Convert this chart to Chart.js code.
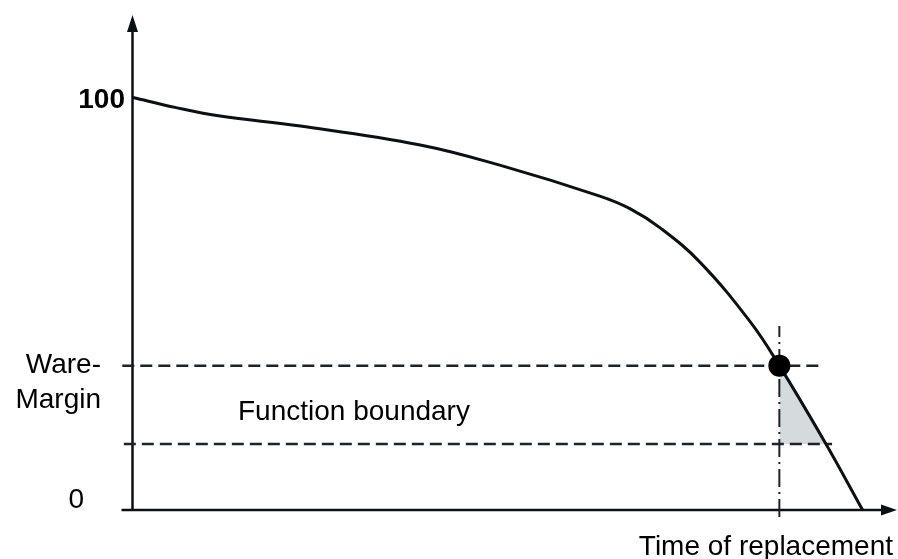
<!DOCTYPE html>
<html>
<head>
<meta charset="utf-8">
<script src="https://cdn.jsdelivr.net/npm/chart.js@4.4.1/dist/chart.umd.min.js"></script>
<style>
  html, body { margin: 0; padding: 0; background: #fff; }
  #wrap { width: 898px; height: 559px; }
</style>
</head>
<body>
<div id="wrap"><canvas id="wear-chart" width="898" height="559"></canvas></div>
<script>
// wear reserve (%) over operating time (arbitrary units 0..100)
const timeValues = [0, 5.5, 11.4, 21.9, 37.6, 48.0, 61.1, 65.1, 69.0, 74.2, 80.8, 84.6, 90.7, 95.5];
const wearReserve = [100, 97.6, 95.5, 93.1, 88.5, 83.6, 76.1, 73.0, 68.4, 60.1, 45.6, 35, 16, 0];

const wareMargin = 35;
const functionBoundary = 16;
const replacementTime = 84.6;
const boundaryTime = 90.7;
const wareMarginRange = [-1.4, 89.9];
const boundaryRange = [-1.2, 91.5];
const replacementRange = [-1.7, 44.6];

const topLabel = '100';
const zeroLabel = '0';
const marginLabel = ['Ware-', 'Margin'];
const boundaryLabel = 'Function boundary';
const xAxisLabel = 'Time of replacement';

const ink = '#0b1015';
const font = '"Liberation Sans", Arial, sans-serif';

const axesAndLabels = {
  id: 'axesAndLabels',
  beforeDatasetsDraw(chart) {
    const { ctx, scales: { x, y } } = chart;
    const x0 = x.getPixelForValue(0) - 0.5;
    const y0 = y.getPixelForValue(0);
    const yTop = y.getPixelForValue(y.max);
    const xEnd = x.getPixelForValue(x.max);
    ctx.save();
    ctx.strokeStyle = ink;
    ctx.fillStyle = ink;
    ctx.lineWidth = 2.5;
    ctx.beginPath();
    ctx.moveTo(x0, y0 + 1);
    ctx.lineTo(x0, yTop + 14);
    ctx.moveTo(x0 - 11, y0);
    ctx.lineTo(xEnd - 12, y0);
    ctx.stroke();
    ctx.beginPath();
    ctx.moveTo(x0, yTop);
    ctx.lineTo(x0 - 5.5, yTop + 17);
    ctx.lineTo(x0 + 5.5, yTop + 17);
    ctx.closePath();
    ctx.moveTo(xEnd, y0);
    ctx.lineTo(xEnd - 16, y0 - 5.5);
    ctx.lineTo(xEnd - 16, y0 + 5.5);
    ctx.closePath();
    ctx.fill();
    ctx.restore();
  },
  afterDatasetsDraw(chart) {
    const { ctx, scales: { x, y } } = chart;
    const x0 = x.getPixelForValue(0);
    const y0 = y.getPixelForValue(0);
    const xEnd = x.getPixelForValue(x.max);
    const yMargin = y.getPixelForValue(wareMargin);
    const yBound = y.getPixelForValue(functionBoundary);
    ctx.save();
    ctx.fillStyle = '#000';
    ctx.textBaseline = 'alphabetic';

    ctx.font = 'bold 28px ' + font;
    ctx.textAlign = 'right';
    ctx.fillText(topLabel, x0 - 8, y.getPixelForValue(100) + 10);

    ctx.font = '28px ' + font;
    ctx.fillText(marginLabel[0], x0 - 32, yMargin + 7);
    ctx.fillText(marginLabel[1], x0 - 32, yMargin + 42);
    ctx.fillText(zeroLabel, x0 - 49, y0 - 2);
    ctx.fillText(xAxisLabel, xEnd - 4, y0 + 45);

    ctx.textAlign = 'left';
    ctx.fillText(boundaryLabel, x0 + 105, yBound - 24);
    ctx.restore();
  }
};

const dashed = {
  borderColor: '#1b232b',
  borderWidth: 2.5,
  borderDash: [12, 6],
  pointRadius: 0,
  fill: false,
  clip: false,
  order: 2
};

new Chart(document.getElementById('wear-chart').getContext('2d'), {
  type: 'line',
  data: {
    datasets: [
      {
        label: 'Replacement point',
        data: [{ x: replacementTime, y: wareMargin }],
        showLine: false,
        pointRadius: 11,
        pointBackgroundColor: '#000',
        pointBorderWidth: 0,
        clip: false,
        order: 0
      },
      {
        label: 'Wear reserve',
        data: timeValues.map((t, i) => ({ x: t, y: wearReserve[i] })),
        borderColor: ink,
        borderWidth: 3,
        pointRadius: 0,
        tension: 0.4,
        fill: false,
        clip: false,
        order: 1
      },
      {
        ...dashed,
        label: 'Ware margin',
        data: wareMarginRange.map((t) => ({ x: t, y: wareMargin }))
      },
      {
        ...dashed,
        label: 'Function boundary',
        data: boundaryRange.map((t) => ({ x: t, y: functionBoundary }))
      },
      {
        ...dashed,
        label: 'Time of replacement',
        borderWidth: 2,
        borderDash: [18, 5, 2, 5],
        data: replacementRange.map((v) => ({ x: replacementTime, y: v }))
      },
      {
        label: 'Margin used',
        data: [
          { x: replacementTime, y: wareMargin },
          { x: boundaryTime, y: functionBoundary }
        ],
        borderWidth: 0,
        pointRadius: 0,
        backgroundColor: '#d5dadd',
        fill: { value: functionBoundary },
        order: 3
      }
    ]
  },
  options: {
    responsive: false,
    animation: false,
    events: [],
    layout: {
      autoPadding: false,
      padding: { left: 133, right: 1, top: 15, bottom: 49 }
    },
    plugins: {
      legend: { display: false },
      tooltip: { enabled: false }
    },
    scales: {
      x: { type: 'linear', min: 0, max: 100, display: false },
      y: { type: 'linear', min: 0, max: 120, display: false }
    }
  },
  plugins: [axesAndLabels]
});
</script>
</body>
</html>
